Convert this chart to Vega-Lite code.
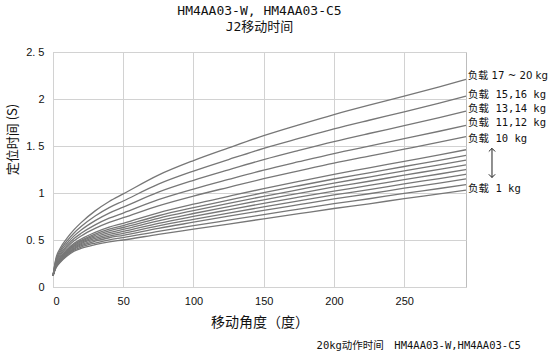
{
  "$schema": "https://vega.github.io/schema/vega-lite/v6.json",
  "width": 413,
  "height": 235,
  "autosize": {"type": "none"},
  "padding": {"left": 53, "top": 52, "right": 84, "bottom": 65},
  "background": "white",
  "title": {
    "text": ["HM4AA03-W, HM4AA03-C5", "J2移动时间"],
    "font": "DejaVu Sans Mono, Noto Sans CJK SC",
    "fontSize": 13,
    "fontWeight": "normal",
    "color": "#111",
    "lineHeight": 16,
    "offset": 12
  },
  "config": {
    "view": {"stroke": "#bdbdbd"},
    "axis": {"labelColor": "#111", "titleColor": "#111"}
  },
  "layer": [
    {
      "data": {"values": [
        {"x": 0, "a1": 0.12, "a2": 0.12, "a3": 0.12, "a4": 0.12, "a5": 0.12, "a6": 0.12, "a7": 0.12, "a8": 0.12, "a9": 0.12, "a10": 0.12, "a11": 0.12, "a12": 0.12, "a13": 0.12, "a14": 0.12},
        {"x": 2, "a1": 0.20, "a2": 0.205, "a3": 0.21, "a4": 0.214, "a5": 0.219, "a6": 0.223, "a7": 0.227, "a8": 0.231, "a9": 0.236, "a10": 0.248, "a11": 0.259, "a12": 0.271, "a13": 0.285, "a14": 0.30},
        {"x": 5, "a1": 0.26, "a2": 0.268, "a3": 0.275, "a4": 0.282, "a5": 0.288, "a6": 0.294, "a7": 0.301, "a8": 0.307, "a9": 0.315, "a10": 0.332, "a11": 0.348, "a12": 0.367, "a13": 0.387, "a14": 0.41},
        {"x": 10, "a1": 0.33, "a2": 0.34, "a3": 0.349, "a4": 0.357, "a5": 0.365, "a6": 0.374, "a7": 0.381, "a8": 0.39, "a9": 0.399, "a10": 0.422, "a11": 0.441, "a12": 0.465, "a13": 0.491, "a14": 0.52},
        {"x": 15, "a1": 0.38, "a2": 0.392, "a3": 0.403, "a4": 0.413, "a5": 0.423, "a6": 0.433, "a7": 0.442, "a8": 0.452, "a9": 0.464, "a10": 0.491, "a11": 0.515, "a12": 0.544, "a13": 0.575, "a14": 0.61},
        {"x": 20, "a1": 0.41, "a2": 0.424, "a3": 0.438, "a4": 0.45, "a5": 0.461, "a6": 0.473, "a7": 0.485, "a8": 0.496, "a9": 0.51, "a10": 0.543, "a11": 0.571, "a12": 0.606, "a13": 0.643, "a14": 0.685},
        {"x": 30, "a1": 0.45, "a2": 0.468, "a3": 0.487, "a4": 0.502, "a5": 0.517, "a6": 0.532, "a7": 0.548, "a8": 0.563, "a9": 0.581, "a10": 0.624, "a11": 0.661, "a12": 0.706, "a13": 0.755, "a14": 0.81},
        {"x": 40, "a1": 0.48, "a2": 0.502, "a3": 0.524, "a4": 0.542, "a5": 0.56, "a6": 0.578, "a7": 0.597, "a8": 0.615, "a9": 0.637, "a10": 0.688, "a11": 0.732, "a12": 0.786, "a13": 0.844, "a14": 0.91},
        {"x": 50, "a1": 0.50, "a2": 0.525, "a3": 0.55, "a4": 0.571, "a5": 0.591, "a6": 0.612, "a7": 0.633, "a8": 0.654, "a9": 0.678, "a10": 0.737, "a11": 0.787, "a12": 0.849, "a13": 0.915, "a14": 0.99},
        {"x": 75, "a1": 0.56, "a2": 0.592, "a3": 0.624, "a4": 0.651, "a5": 0.677, "a6": 0.704, "a7": 0.731, "a8": 0.758, "a9": 0.789, "a10": 0.864, "a11": 0.929, "a12": 1.009, "a13": 1.094, "a14": 1.19},
        {"x": 100, "a1": 0.615, "a2": 0.652, "a3": 0.689, "a4": 0.72, "a5": 0.751, "a6": 0.782, "a7": 0.813, "a8": 0.844, "a9": 0.881, "a10": 0.968, "a11": 1.042, "a12": 1.135, "a13": 1.233, "a14": 1.345},
        {"x": 125, "a1": 0.67, "a2": 0.711, "a3": 0.753, "a4": 0.787, "a5": 0.821, "a6": 0.855, "a7": 0.89, "a8": 0.924, "a9": 0.965, "a10": 1.061, "a11": 1.144, "a12": 1.247, "a13": 1.356, "a14": 1.48},
        {"x": 150, "a1": 0.725, "a2": 0.77, "a3": 0.815, "a4": 0.852, "a5": 0.89, "a6": 0.928, "a7": 0.965, "a8": 1.003, "a9": 1.047, "a10": 1.152, "a11": 1.243, "a12": 1.355, "a13": 1.475, "a14": 1.61},
        {"x": 175, "a1": 0.78, "a2": 0.828, "a3": 0.876, "a4": 0.916, "a5": 0.956, "a6": 0.996, "a7": 1.036, "a8": 1.077, "a9": 1.124, "a10": 1.236, "a11": 1.333, "a12": 1.453, "a13": 1.58, "a14": 1.725},
        {"x": 200, "a1": 0.835, "a2": 0.886, "a3": 0.937, "a4": 0.979, "a5": 1.021, "a6": 1.064, "a7": 1.106, "a8": 1.149, "a9": 1.199, "a10": 1.318, "a11": 1.42, "a12": 1.547, "a13": 1.682, "a14": 1.835},
        {"x": 225, "a1": 0.885, "a2": 0.939, "a3": 0.992, "a4": 1.036, "a5": 1.08, "a6": 1.125, "a7": 1.17, "a8": 1.215, "a9": 1.267, "a10": 1.392, "a11": 1.499, "a12": 1.633, "a13": 1.774, "a14": 1.935},
        {"x": 250, "a1": 0.94, "a2": 0.996, "a3": 1.051, "a4": 1.097, "a5": 1.143, "a6": 1.19, "a7": 1.235, "a8": 1.282, "a9": 1.337, "a10": 1.466, "a11": 1.578, "a12": 1.716, "a13": 1.863, "a14": 2.03},
        {"x": 275, "a1": 0.99, "a2": 1.048, "a3": 1.106, "a4": 1.154, "a5": 1.202, "a6": 1.251, "a7": 1.299, "a8": 1.348, "a9": 1.405, "a10": 1.541, "a11": 1.657, "a12": 1.802, "a13": 1.956, "a14": 2.13},
        {"x": 294, "a1": 1.03, "a2": 1.09, "a3": 1.15, "a4": 1.2, "a5": 1.25, "a6": 1.3, "a7": 1.35, "a8": 1.4, "a9": 1.46, "a10": 1.6, "a11": 1.72, "a12": 1.87, "a13": 2.03, "a14": 2.21}
      ]},
      "transform": [
        {"fold": ["a1", "a2", "a3", "a4", "a5", "a6", "a7", "a8", "a9", "a10", "a11", "a12", "a13", "a14"], "as": ["load", "t"]}
      ],
      "mark": {"type": "line", "interpolate": "monotone", "color": "#777777", "strokeWidth": 1.3},
      "encoding": {
        "x": {
          "field": "x", "type": "quantitative",
          "scale": {"domain": [0, 294], "nice": false},
          "axis": {
            "values": [0, 50, 100, 150, 200, 250],
            "title": "移动角度（度）",
            "titleFont": "Noto Sans CJK SC",
            "titleFontSize": 14,
            "titleFontWeight": "normal",
            "titlePadding": 9,
            "labelFont": "Liberation Sans",
            "labelFontSize": 11,
            "labelPadding": 8,
            "ticks": false,
            "domain": false,
            "grid": true,
            "gridColor": "#d2d2d2"
          }
        },
        "y": {
          "field": "t", "type": "quantitative",
          "scale": {"domain": [0, 2.5], "nice": false},
          "axis": {
            "values": [0, 0.5, 1, 1.5, 2, 2.5],
            "format": ".1~f",
            "labelExpr": "replace(datum.label, '.', '. ')",
            "title": "定位时间 (S)",
            "titleFont": "Noto Sans CJK SC",
            "titleFontSize": 13,
            "titleFontWeight": "normal",
            "titleAngle": -90,
            "titleAlign": "center",
            "titleBaseline": "middle",
            "titleX": -41,
            "titleY": 87,
            "labelFont": "Liberation Sans",
            "labelFontSize": 11,
            "labelPadding": 9,
            "ticks": false,
            "domain": false,
            "grid": true,
            "gridColor": "#d2d2d2"
          }
        },
        "detail": {"field": "load", "type": "nominal"}
      }
    },
    {
      "data": {"values": [
        {"label": "负载 17 ~ 20 kg", "t": 2.245}
      ]},
      "mark": {"type": "text", "align": "left", "baseline": "middle", "font": "DejaVu Sans, Noto Sans CJK SC", "fontSize": 10.2, "color": "#111"},
      "encoding": {
        "x": {"datum": 295.3, "type": "quantitative"},
        "y": {"field": "t", "type": "quantitative"},
        "text": {"field": "label"}
      }
    },
    {
      "data": {"values": [
        {"label": "负载 15,16 kg", "t": 2.045},
        {"label": "负载 13,14 kg", "t": 1.89},
        {"label": "负载 11,12 kg", "t": 1.74},
        {"label": "负载 10 kg", "t": 1.575},
        {"label": "负载 1 kg", "t": 1.04}
      ]},
      "mark": {"type": "text", "align": "left", "baseline": "middle", "font": "DejaVu Sans Mono, Noto Sans CJK SC", "fontSize": 10.5, "color": "#111"},
      "encoding": {
        "x": {"datum": 295.5, "type": "quantitative"},
        "y": {"field": "t", "type": "quantitative"},
        "text": {"field": "label"}
      }
    },
    {
      "data": {"values": [{}]},
      "mark": {"type": "rule", "color": "#222", "strokeWidth": 1},
      "encoding": {
        "x": {"datum": 312.5, "type": "quantitative"},
        "y": {"datum": 1.475, "type": "quantitative"},
        "y2": {"datum": 1.165}
      }
    },
    {
      "data": {"values": [{}]},
      "mark": {"type": "point", "shape": "M-1,1L0,0L1,1", "size": 40, "filled": false, "color": "#222", "strokeWidth": 1, "opacity": 1},
      "encoding": {
        "x": {"datum": 312.5, "type": "quantitative"},
        "y": {"datum": 1.475, "type": "quantitative"}
      }
    },
    {
      "data": {"values": [{}]},
      "mark": {"type": "point", "shape": "M-1,-1L0,0L1,-1", "size": 40, "filled": false, "color": "#222", "strokeWidth": 1, "opacity": 1},
      "encoding": {
        "x": {"datum": 312.5, "type": "quantitative"},
        "y": {"datum": 1.165, "type": "quantitative"}
      }
    },
    {
      "data": {"values": [{"caption": "20kg动作时间　HM4AA03-W,HM4AA03-C5"}]},
      "mark": {"type": "text", "align": "right", "baseline": "middle", "font": "DejaVu Sans Mono, Noto Sans CJK SC", "fontSize": 10.5, "color": "#111"},
      "encoding": {
        "x": {"datum": 333, "type": "quantitative"},
        "y": {"datum": -0.628, "type": "quantitative"},
        "text": {"field": "caption"}
      }
    }
  ]
}
